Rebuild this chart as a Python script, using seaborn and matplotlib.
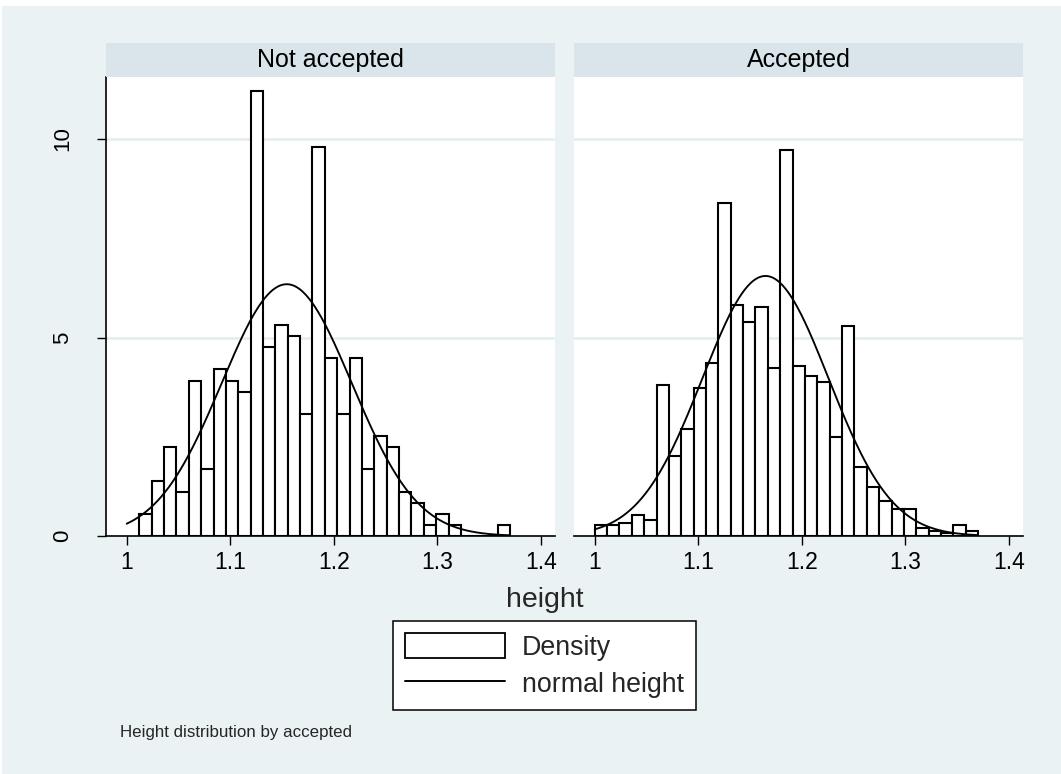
import numpy as np
import pandas as pd
import matplotlib
matplotlib.use("Agg")
import matplotlib.pyplot as plt
from matplotlib.patches import Rectangle, Patch
from matplotlib.lines import Line2D
import seaborn as sns

# ---- data -------------------------------------------------------------
panels = ["Not accepted", "Accepted"]
bin_width = 0.01195
bin_starts = [1.0122, 1.0]

# bar heights on the density scale, one per bin
not_accepted_density = [0.55, 1.39, 2.23, 1.12, 3.91, 1.68, 4.20, 3.91, 3.64, 11.20,
                        4.75, 5.32, 5.04, 3.07, 9.79, 4.48, 3.07, 4.48, 1.68, 2.52,
                        2.23, 1.12, 0.84, 0.28, 0.55, 0.28, 0.0, 0.0, 0.0, 0.28]
accepted_density = [0.27, 0.27, 0.34, 0.54, 0.41, 3.81, 2.01, 2.70, 3.74, 4.37,
                    8.39, 5.82, 5.40, 5.76, 4.23, 9.72, 4.29, 4.02, 3.88, 2.50,
                    5.28, 1.73, 1.24, 0.89, 0.68, 0.68, 0.20, 0.13, 0.07, 0.27, 0.13]

# normal overlay (mean, sd) for each group
normal_mean = [1.1546, 1.165]
normal_sd = [0.0629, 0.0609]
curve_range = (1.0, 1.3704)

x_ticks = [1.0, 1.1, 1.2, 1.3, 1.4]
x_tick_labels = ["1", "1.1", "1.2", "1.3", "1.4"]
y_ticks = [0, 5, 10]
y_tick_labels = ["0", "5", "10"]

# ---- style ------------------------------------------------------------
sns.set_style("white")
plt.rcParams["font.family"] = ["Liberation Sans", "DejaVu Sans"]

BG = "#EAF2F3"
STRIP = "#D9E5EA"
GRID = "#E3EDEF"

W, H = 1061, 774
fig = plt.figure(figsize=(W / 100, H / 100), dpi=100, facecolor="white")
fig.add_artist(Rectangle((2 / W, 0), 1, 1 - 6 / H, transform=fig.transFigure,
                         facecolor=BG, edgecolor="none", zorder=-10))

ax_left_px = [106, 574]
ax_w_px = 449
ax_top_px, ax_bot_px = 76.7, 536
strip_h_px = 34

densities = [not_accepted_density, accepted_density]

for i, name in enumerate(panels):
    ax = fig.add_axes([ax_left_px[i] / W, 1 - ax_bot_px / H,
                       ax_w_px / W, (ax_bot_px - ax_top_px) / H])
    ax.set_facecolor("white")

    dens = np.asarray(densities[i])
    n = len(dens)
    lo = bin_starts[i]
    hi = lo + n * bin_width
    centers = lo + (np.arange(n) + 0.5) * bin_width
    df = pd.DataFrame({"height": centers, "density": dens})

    for g in (5, 10):
        ax.axhline(g, color=GRID, lw=1.8, zorder=0.5)

    sns.histplot(data=df, x="height", weights="density", binwidth=bin_width,
                 binrange=(lo, hi), stat="count", ax=ax, color="white",
                 edgecolor="black", linewidth=1.5, alpha=1, zorder=2)

    xs = np.linspace(curve_range[0], curve_range[1], 400)
    ys = np.exp(-0.5 * ((xs - normal_mean[i]) / normal_sd[i]) ** 2) / (normal_sd[i] * np.sqrt(2 * np.pi))
    sns.lineplot(x=xs, y=ys, ax=ax, color="black", linewidth=1.35, zorder=3)

    ax.set_xlim(0.98, 1.4138)
    ax.set_ylim(0, 11.57)
    ax.set_xlabel("")
    ax.set_ylabel("")
    ax.set_xticks(x_ticks)
    ax.set_xticklabels(x_tick_labels)
    ax.tick_params(axis="x", bottom=True, length=6.5, width=1, pad=4,
                   labelsize=16.5, colors="black")

    for s in ("top", "right"):
        ax.spines[s].set_visible(False)
    ax.spines["bottom"].set_color("black")
    ax.spines["bottom"].set_linewidth(1.2)

    if i == 0:
        ax.spines["left"].set_color("black")
        ax.spines["left"].set_linewidth(1.2)
        ax.set_yticks(y_ticks)
        ax.set_yticklabels(y_tick_labels, rotation=90, va="center")
        ax.tick_params(axis="y", left=True, length=6.5, width=1, pad=17,
                       labelsize=16, colors="black")
    else:
        ax.spines["left"].set_visible(False)
        ax.set_yticks(y_ticks)
        ax.set_yticklabels([])
        ax.tick_params(axis="y", left=False)

    sh = strip_h_px / (ax_bot_px - ax_top_px)
    ax.add_patch(Rectangle((0, 1), 1, sh, transform=ax.transAxes, facecolor=STRIP,
                           edgecolor="none", clip_on=False, zorder=5))
    ax.text(0.5, 1 + sh / 2, name, transform=ax.transAxes, ha="center",
            va="center", fontsize=18, color="black", zorder=6)

fig.text(545 / W, 1 - 600 / H, "height", ha="center", va="center", fontsize=20.5)

handles = [Patch(facecolor="white", edgecolor="black", linewidth=1.3),
           Line2D([0], [0], color="black", lw=1.4)]
leg = fig.legend(handles=handles, labels=["Density", "normal height"],
                 loc="center", bbox_to_anchor=(544.5 / W, 1 - 665.5 / H),
                 frameon=True, fancybox=False, edgecolor="black", facecolor="white",
                 framealpha=1, fontsize=19.3, handlelength=3.75, handleheight=1.06,
                 handletextpad=0.62, labelspacing=0.33, borderpad=0.45)
leg.get_frame().set_linewidth(1.1)

fig.text(120 / W, 1 - 733 / H, "Height distribution by accepted", ha="left",
         va="center", fontsize=12.2)

fig.savefig("out.png", dpi=100)
